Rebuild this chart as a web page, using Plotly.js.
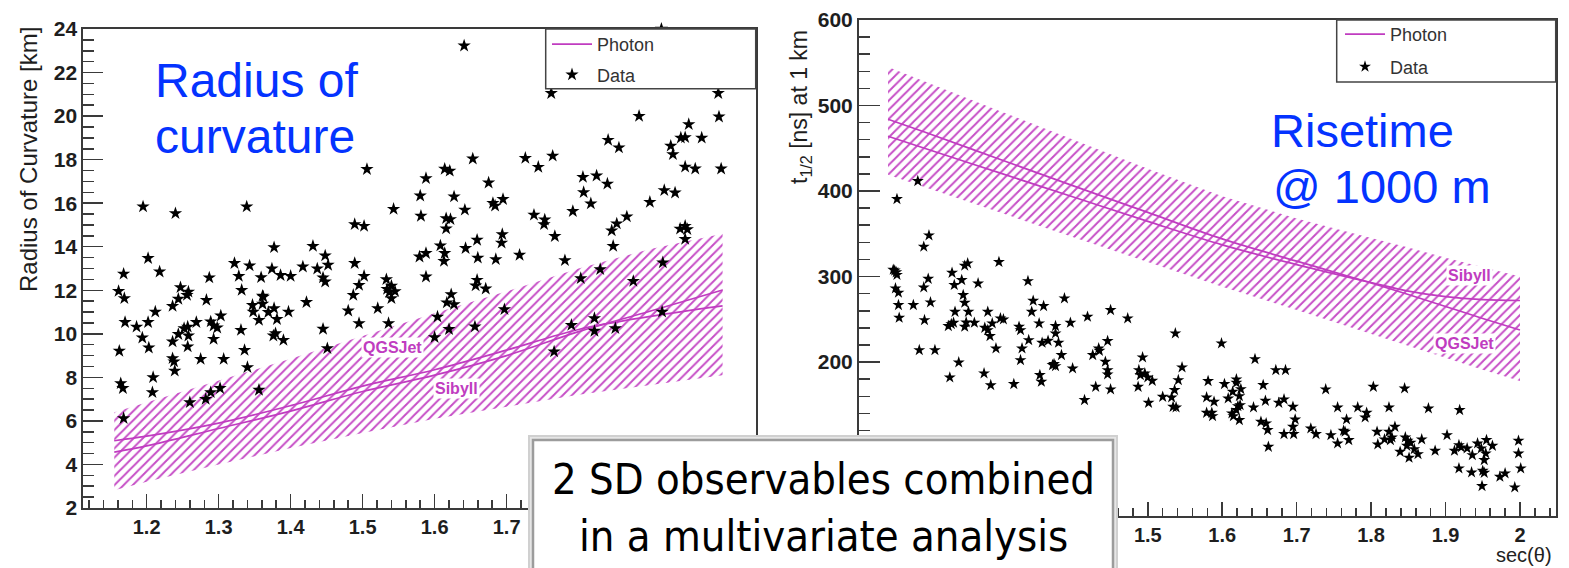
<!DOCTYPE html>
<html>
<head>
<meta charset="utf-8">
<script src="https://cdn.plot.ly/plotly-3.0.1.min.js"></script>
<style>html,body{margin:0;padding:0;background:#fff;}#chart{width:1569px;height:568px;}</style>
</head>
<body>
<div id="chart"></div>
<script>
// ---------------- DATA ----------------
// Left panel: radius of curvature vs sec(theta)
const secLeft = [1.155, 1.2, 1.3, 1.4, 1.5, 1.6, 1.7, 1.8, 1.9, 2.0];
const radiusBandHigh = [6.4, 6.85, 7.85, 8.85, 9.9, 10.95, 11.95, 13.0, 13.9, 14.6];
const radiusBandLow = [2.82, 3.2, 4.0, 4.75, 5.45, 6.1, 6.65, 7.2, 7.65, 8.1];
const radiusSibyll = [5.09, 5.3, 5.9, 6.7, 7.6, 8.35, 9.25, 10.2, 10.8, 11.28];
const radiusQGSJet = [4.57, 4.85, 5.65, 6.45, 7.35, 8.1, 9.0, 10.1, 11.05, 12.01];

const radiusDataSec = [
1.195,1.240,1.339,1.202,1.168,1.218,1.322,1.328,1.343,1.359,1.377,1.374,1.386,1.400,1.417,1.431,1.437,1.448,1.452,1.445,
1.448,1.489,1.502,1.506,1.489,1.502,1.495,1.487,1.543,1.533,1.534,1.540,1.537,1.545,1.161,1.247,1.258,1.287,1.332,1.361,
1.169,1.170,1.186,1.194,1.202,1.203,1.212,1.209,1.208,1.162,1.164,1.167,1.168,1.236,1.236,1.244,1.244,1.256,1.257,1.252,
1.258,1.257,1.236,1.238,1.239,1.260,1.269,1.275,1.283,1.282,1.289,1.289,1.293,1.298,1.303,1.293,1.302,1.307,1.331,1.336,
1.340,1.347,1.348,1.356,1.361,1.362,1.356,1.369,1.377,1.381,1.379,1.376,1.390,1.397,1.422,1.445,1.451,1.480,1.495,1.521,
1.536,1.540,1.641,1.915,1.762,1.994,1.884,1.995,1.953,1.942,1.948,1.971,1.841,1.856,1.928,1.931,1.948,1.962,1.998,1.653,
1.726,1.744,1.764,1.806,1.825,1.840,1.807,1.817,1.792,1.899,1.919,1.934,1.867,1.853,1.846,1.848,1.941,1.948,1.951,1.948,
1.917,1.876,1.830,1.803,1.781,1.767,1.738,1.753,1.752,1.695,1.681,1.684,1.675,1.614,1.621,1.588,1.580,1.627,1.642,1.581,
1.616,1.622,1.616,1.659,1.643,1.608,1.614,1.613,1.579,1.588,1.588,1.623,1.660,1.685,1.694,1.693,1.718,1.659,1.657,1.671,
1.617,1.627,1.604,1.600,1.620,1.656,1.697,1.790,1.822,1.822,1.851,1.766,1.916];
const radiusDataKm = [
15.84,15.53,15.84,13.47,12.75,12.85,13.24,12.65,13.13,12.59,13.97,12.99,12.69,12.65,13.08,14.03,12.99,13.59,13.16,12.58,
12.39,15.03,14.95,17.56,13.24,12.65,12.24,11.78,15.73,12.50,12.05,12.20,11.90,11.95,11.96,12.13,11.93,12.58,12.01,11.74,
11.63,10.53,10.32,9.82,10.53,9.36,11.01,8.00,7.31,9.21,7.72,7.50,6.12,11.27,9.64,9.98,11.60,11.78,10.32,10.25,
9.91,9.41,8.87,8.72,8.30,6.85,10.53,8.84,11.55,7.00,7.31,10.56,10.37,10.28,10.83,9.76,7.50,8.84,10.17,9.25,
8.46,11.32,11.01,10.63,11.37,11.70,7.42,10.99,11.17,10.67,10.02,9.91,9.71,11.01,11.45,10.22,9.33,11.06,10.48,11.17,
10.48,11.63,23.23,24.00,21.05,21.05,20.00,19.97,19.62,19.00,19.02,19.00,18.90,18.55,18.63,18.24,17.67,17.58,17.58,18.04,
18.07,17.66,18.17,17.20,17.26,16.89,16.50,15.98,15.63,16.05,16.59,16.48,15.38,15.06,14.74,14.03,14.82,14.95,14.80,14.35,
13.27,12.42,12.96,12.55,13.37,14.48,15.46,15.24,15.03,16.18,16.00,15.88,16.94,17.57,17.48,17.14,16.34,16.30,15.69,15.41,
15.30,15.26,14.83,14.31,13.93,14.05,13.70,13.34,13.54,13.70,12.62,11.81,13.49,13.42,14.57,14.18,13.62,12.47,12.21,12.07,
11.43,11.35,10.78,9.84,10.21,10.33,11.12,10.40,10.71,10.13,10.25,9.18,11.01];

// Right panel: risetime t1/2 at 1 km vs sec(theta)
const secRight = [1.151, 1.2, 1.3, 1.4, 1.5, 1.6, 1.7, 1.8, 1.85, 1.9, 1.95, 2.0];
const riseBandHigh = [545, 528, 494, 460, 426, 394, 368, 345, 334, 322, 311, 300];
const riseBandLow = [419, 404.5, 375, 346, 317, 288, 261, 233, 219, 205, 191, 178];
const riseQGSJet = [484, 469, 437.5, 406, 375, 344, 318, 292.5, 279, 265, 251, 237.5];
const riseSibyll = [464, 450, 421.5, 393, 364.5, 337, 314, 293, 283, 276.5, 273, 272];

const riseDataSec = [
1.191,1.163,1.206,1.199,1.160,1.162,1.158,1.163,1.161,1.165,1.165,1.166,1.185,1.200,1.208,1.199,1.205,1.237,1.250,1.240,
1.254,1.258,1.300,1.272,1.252,1.254,1.241,1.259,1.285,1.232,1.236,1.239,1.254,1.256,1.267,1.281,1.285,1.288,1.291,1.302,
1.306,1.296,1.339,1.346,1.344,1.360,1.388,1.354,1.327,1.329,1.340,1.331,1.358,1.366,1.376,1.376,1.380,1.396,1.419,1.450,
1.473,1.446,1.434,1.537,1.193,1.214,1.246,1.234,1.280,1.289,1.320,1.329,1.355,1.357,1.384,1.372,1.376,1.374,1.399,1.426,
1.435,1.443,1.446,1.446,1.415,1.430,1.450,1.493,1.488,1.490,1.496,1.500,1.506,1.487,1.501,1.520,1.532,1.536,1.534,1.538,
1.541,1.599,1.644,1.546,1.581,1.579,1.589,1.579,1.587,1.586,1.603,1.608,1.614,1.619,1.625,1.623,1.624,1.621,1.613,1.615,
1.623,1.619,1.642,1.655,1.658,1.652,1.659,1.661,1.662,1.672,1.685,1.676,1.683,1.695,1.698,1.695,1.683,1.696,1.719,1.726,
1.739,1.746,1.755,1.755,1.767,1.763,1.765,1.770,1.782,1.794,1.792,1.803,1.824,1.808,1.809,1.818,1.824,1.828,1.832,1.826,
1.845,1.846,1.849,1.853,1.848,1.839,1.851,1.858,1.863,1.868,1.877,1.886,1.902,1.919,1.912,1.918,1.921,1.929,1.918,1.936,
1.935,1.943,1.948,1.955,1.954,1.952,1.963,1.950,1.952,1.949,1.973,1.980,1.993,1.998,1.998,2.001,1.619];
const riseDataNs = [
411.7,390.6,348.2,334.9,307,305,308,302,286.2,281.1,266.7,251.8,266.7,249.1,269.8,287.3,297.4,304.4,295.9,290.1,
312.7,315.4,317,292,278.4,269.4,258.8,258.8,258.8,242.1,244.4,246,241.3,246.4,246,240.1,237.4,230.4,245.3,251.1,
249.9,216,294.7,271.7,258.8,265.5,274.5,245.3,241.3,237.4,225.7,216,222.6,224.9,242.1,233.5,222.6,246,253,260.8,
251.1,224.6,216,233.6,214,214,199.6,182,186.8,173,174.3,202.3,184.8,177,208.2,196.5,195.3,197.7,192.6,208.2,
213.2,200.4,190.6,185.6,155.6,171.1,168.1,205.5,190.6,184.8,186.8,182.1,178.1,171.1,152.4,159.4,158.7,167.3,147.7,147,
178.9,221.9,203.5,193.8,177.8,158.7,153.6,140.7,136.8,140.7,174.3,157.5,165.3,179.8,168.4,160.2,149.7,148.5,140,136.8,
132.2,143.9,147,173.1,154.7,130.2,128.3,120.5,100.9,190.6,190.6,152.4,156.4,147.7,132.9,124.3,115.8,115.8,122.4,115.8,
168.1,114.6,104.9,147,132.9,119.7,118.5,108.8,147,140.7,135.3,171.1,147,118.5,103.7,109.6,118.5,111.9,124.3,108.8,
169.2,111.9,108,105.6,102.1,95.1,88.1,98.2,92.4,109.6,145.8,96.3,114.6,143.9,96.3,102.9,100.2,99.1,75.7,91.2,
71,104.9,99.1,108.8,93.2,85.4,102.1,72.9,70.5,55,65.9,69.9,53.5,108,93.2,75.7,175.8];

// Tick labels left visible (the rest lie under the caption box)
const leftSecTicks = [1.2, 1.3, 1.4, 1.5, 1.6, 1.7];
const rightSecTicks = [1.5, 1.6, 1.7, 1.8, 1.9, 2.0];
const radiusTicks = [2, 4, 6, 8, 10, 12, 14, 16, 18, 20, 22, 24];
const riseTicks = [200, 300, 400, 500, 600];

// ---------------- STYLE ----------------
const W = 1569, H = 568;
const px = v => v / W;
const py = v => 1 - v / H;
const MAG = '#c03cc0';
const HATCH = '#c64ec6';
const FONT = '"Liberation Sans", Arial, Helvetica, sans-serif';
const NARROW = '"Liberation Sans Narrow", "Arial Narrow", "DejaVu Sans Condensed", "Liberation Sans", Arial, sans-serif';

function fitSize(text, family, target) {
  const c = document.createElement('canvas').getContext('2d');
  c.font = '100px ' + family;
  return 100 * target / c.measureText(text).width;
}
const boxLine1 = '2 SD observables combined';
const boxLine2 = 'in a multivariate analysis';
const boxSize = fitSize(boxLine1, NARROW, 543);

const hatch = {shape: '/', size: 6.5, solidity: 0.3, fgcolor: HATCH, bgcolor: 'rgba(0,0,0,0)'};

const traces = [
  // left band
  {x: secLeft, y: radiusBandLow, xaxis: 'x', yaxis: 'y', mode: 'lines', line: {width: 0, color: 'rgba(0,0,0,0)'}, showlegend: false, hoverinfo: 'skip'},
  {x: secLeft, y: radiusBandHigh, xaxis: 'x', yaxis: 'y', mode: 'lines', line: {width: 0, color: 'rgba(0,0,0,0)'}, fill: 'tonexty', fillcolor: 'rgba(0,0,0,0)', fillpattern: hatch, showlegend: false, hoverinfo: 'skip'},
  {x: secLeft, y: radiusSibyll, xaxis: 'x', yaxis: 'y', mode: 'lines', line: {color: MAG, width: 1.7, shape: 'spline'}, name: 'Photon', legend: 'legend', legendgroup: 'phL', showlegend: true},
  {x: secLeft, y: radiusQGSJet, xaxis: 'x', yaxis: 'y', mode: 'lines', line: {color: MAG, width: 1.7, shape: 'spline'}, name: 'Photon QGSJet', legend: 'legend', legendgroup: 'phL', showlegend: false},
  {x: radiusDataSec, y: radiusDataKm, xaxis: 'x', yaxis: 'y', mode: 'markers', marker: {symbol: 'star', size: 10, color: '#000'}, name: 'Data', legend: 'legend', legendgroup: 'dL', cliponaxis: false},
  // right band
  {x: secRight, y: riseBandLow, xaxis: 'x2', yaxis: 'y2', mode: 'lines', line: {width: 0, color: 'rgba(0,0,0,0)'}, showlegend: false, hoverinfo: 'skip'},
  {x: secRight, y: riseBandHigh, xaxis: 'x2', yaxis: 'y2', mode: 'lines', line: {width: 0, color: 'rgba(0,0,0,0)'}, fill: 'tonexty', fillcolor: 'rgba(0,0,0,0)', fillpattern: hatch, showlegend: false, hoverinfo: 'skip'},
  {x: secRight, y: riseSibyll, xaxis: 'x2', yaxis: 'y2', mode: 'lines', line: {color: MAG, width: 1.7, shape: 'spline'}, name: 'Photon', legend: 'legend2', legendgroup: 'phR', showlegend: true},
  {x: secRight, y: riseQGSJet, xaxis: 'x2', yaxis: 'y2', mode: 'lines', line: {color: MAG, width: 1.7, shape: 'spline'}, name: 'Photon QGSJet', legend: 'legend2', legendgroup: 'phR', showlegend: false},
  {x: riseDataSec, y: riseDataNs, xaxis: 'x2', yaxis: 'y2', mode: 'markers', marker: {symbol: 'star', size: 9, color: '#000'}, name: 'Data', legend: 'legend2', legendgroup: 'dR'}
];

function axisBase(extra) {
  return Object.assign({
    showline: true, mirror: true, linecolor: '#3a3a3a', linewidth: 2,
    showgrid: false, zeroline: false, ticks: 'inside', tickcolor: '#3a3a3a', tickwidth: 1.5,
    tickmode: 'array',
    tickfont: {family: FONT, size: 21, color: '#1e1e1e', weight: 'bold'}, automargin: false, fixedrange: true
  }, extra);
}
const xTickFont = {family: FONT, size: 20, color: '#1e1e1e', weight: 'bold'};

const layout = {
  width: W, height: H, margin: {l: 0, r: 0, t: 0, b: 0}, autosize: false,
  paper_bgcolor: '#fff', plot_bgcolor: '#fff', showlegend: true,
  xaxis: axisBase({domain: [px(83.3), px(755.7)], range: [1.112, 2.046], anchor: 'y', tickvals: leftSecTicks, ticklen: 14, tickfont: xTickFont,
    minor: {dtick: 0.02, tick0: 0, ticks: 'inside', ticklen: 8, tickcolor: '#3a3a3a', tickwidth: 1.5}}),
  yaxis: axisBase({domain: [py(508), py(29)], range: [2, 24], anchor: 'x', tickvals: radiusTicks, ticklen: 20,
    minor: {dtick: 0.5, tick0: 0, ticks: 'inside', ticklen: 11, tickcolor: '#3a3a3a', tickwidth: 1.5}}),
  xaxis2: axisBase({domain: [px(859), px(1555.7)], range: [1.112, 2.048], anchor: 'y2', tickvals: rightSecTicks, ticklen: 14, tickfont: xTickFont,
    minor: {dtick: 0.02, tick0: 0, ticks: 'inside', ticklen: 8, tickcolor: '#3a3a3a', tickwidth: 1.5}}),
  yaxis2: axisBase({domain: [py(516), py(20)], range: [20, 600], anchor: 'x2', tickvals: riseTicks, ticklen: 21,
    minor: {dtick: 20, tick0: 0, ticks: 'inside', ticklen: 11, tickcolor: '#3a3a3a', tickwidth: 1.5}}),
  legend: {x: px(547), xanchor: 'left', y: py(26), yanchor: 'top', bgcolor: 'rgba(0,0,0,0)', borderwidth: 0,
    font: {family: FONT, size: 18, color: '#333'}, itemwidth: 40, tracegroupgap: 4, traceorder: 'grouped'},
  legend2: {x: px(1340), xanchor: 'left', y: py(16), yanchor: 'top', bgcolor: 'rgba(0,0,0,0)', borderwidth: 0,
    font: {family: FONT, size: 18, color: '#333'}, itemwidth: 40, tracegroupgap: 6, traceorder: 'grouped'},
  shapes: [
    {type: 'rect', xref: 'paper', yref: 'paper', x0: px(545.7), x1: px(755.7), y0: py(88.7), y1: py(29), fillcolor: '#fff', line: {color: '#444', width: 1.5}, layer: 'above'},
    {type: 'rect', xref: 'paper', yref: 'paper', x0: px(1336.7), x1: px(1555.7), y0: py(82), y1: py(20), fillcolor: '#fff', line: {color: '#444', width: 1.5}, layer: 'above'},
    {type: 'rect', xref: 'paper', yref: 'paper', x0: px(529), x1: px(1117), y0: py(590), y1: py(436), fillcolor: '#e6e6e6', line: {color: '#d0d0d0', width: 2}, layer: 'above'},
    {type: 'rect', xref: 'paper', yref: 'paper', x0: px(533), x1: px(1113), y0: py(590), y1: py(440), fillcolor: '#fff', line: {color: '#9c9c9c', width: 2.5}, layer: 'above'}
  ],
  annotations: [
    {xref: 'paper', yref: 'paper', x: px(153), y: py(80), xanchor: 'left', yanchor: 'middle', showarrow: false, text: 'Radius of', font: {family: FONT, size: 48, color: '#0433ff'}},
    {xref: 'paper', yref: 'paper', x: px(153), y: py(137), xanchor: 'left', yanchor: 'middle', showarrow: false, text: 'curvature', font: {family: FONT, size: 48, color: '#0433ff'}},
    {xref: 'paper', yref: 'paper', x: px(1269), y: py(131), xanchor: 'left', yanchor: 'middle', showarrow: false, text: 'Risetime', font: {family: FONT, size: 47, color: '#0433ff'}},
    {xref: 'paper', yref: 'paper', x: px(1271), y: py(187), xanchor: 'left', yanchor: 'middle', showarrow: false, text: '@ 1000 m', font: {family: FONT, size: 47, color: '#0433ff'}},
    {xref: 'paper', yref: 'paper', x: px(823), y: py(479), xanchor: 'center', yanchor: 'middle', showarrow: false, text: boxLine1, font: {family: NARROW, size: boxSize, color: '#000'}},
    {xref: 'paper', yref: 'paper', x: px(823), y: py(536), xanchor: 'center', yanchor: 'middle', showarrow: false, text: boxLine2, font: {family: NARROW, size: boxSize, color: '#000'}},
    {xref: 'paper', yref: 'paper', x: px(28), y: py(160), xanchor: 'center', yanchor: 'middle', textangle: -90, showarrow: false, text: 'Radius of Curvature [km]', font: {family: FONT, size: 24, color: '#1e1e1e'}},
    {xref: 'paper', yref: 'paper', x: px(800), y: py(107), xanchor: 'center', yanchor: 'middle', textangle: -90, showarrow: false, text: 't<sub>1/2</sub> [ns] at 1 km', font: {family: FONT, size: 23, color: '#1e1e1e'}},
    {xref: 'paper', yref: 'paper', x: px(1554), y: py(568), xanchor: 'right', yanchor: 'bottom', showarrow: false, text: 'sec(θ)', font: {family: FONT, size: 20, color: '#222'}},
    {xref: 'x', yref: 'y', x: 1.541, y: 9.35, showarrow: false, text: 'QGSJet', bgcolor: '#fff', borderpad: 1, font: {family: FONT, size: 16, color: MAG, weight: 'bold'}},
    {xref: 'x', yref: 'y', x: 1.631, y: 7.5, showarrow: false, text: 'Sibyll', bgcolor: '#fff', borderpad: 1, font: {family: FONT, size: 16, color: MAG, weight: 'bold'}},
    {xref: 'x2', yref: 'y2', x: 1.932, y: 301.8, showarrow: false, text: 'Sibyll', bgcolor: '#fff', borderpad: 1, font: {family: FONT, size: 16, color: MAG, weight: 'bold'}},
    {xref: 'x2', yref: 'y2', x: 1.925, y: 221.9, showarrow: false, text: 'QGSJet', bgcolor: '#fff', borderpad: 1, font: {family: FONT, size: 16, color: MAG, weight: 'bold'}}
  ]
};

Plotly.newPlot('chart', traces, layout, {staticPlot: true, displayModeBar: false});
</script>
</body>
</html>
